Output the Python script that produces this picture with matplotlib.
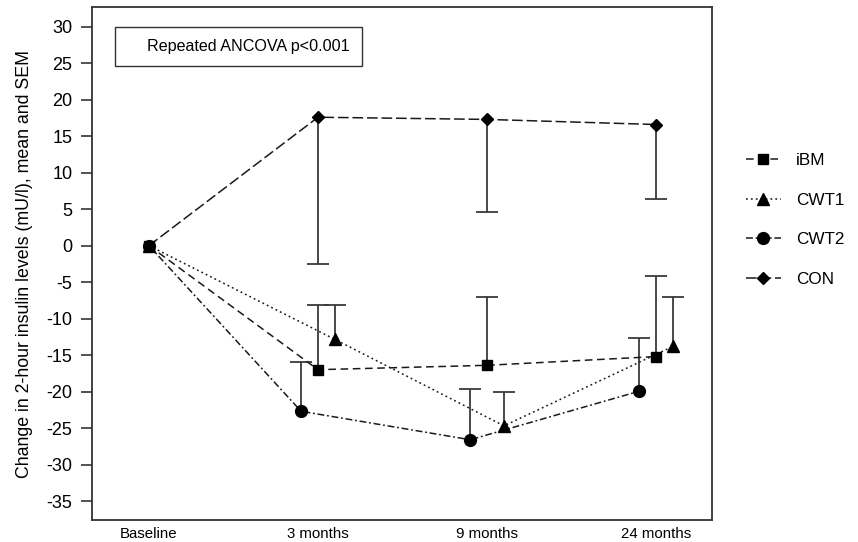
import matplotlib
matplotlib.use("Agg")
import matplotlib.pyplot as plt
from matplotlib.patches import Rectangle
from matplotlib.lines import Line2D
import numpy as np

plt.rcParams['font.family'] = ['Liberation Sans', 'DejaVu Sans']
plt.rcParams['axes.unicode_minus'] = False

timepoints = ["Baseline", "3 months", "9 months", "24 months"]
groups = ["iBM", "CWT1", "CWT2", "CON"]
ibm_mean = [0, -17.0, -16.4, -15.2]
ibm_sem = [0, 8.9, 9.4, 11.1]
cwt1_mean = [0, -12.85, -24.7, -13.8]
cwt1_sem = [0, 4.75, 4.6, 6.7]
cwt2_mean = [0, -22.7, -26.6, -19.95]
cwt2_sem = [0, 6.7, 6.9, 7.35]
con_mean = [0, 17.6, 17.3, 16.6]
con_sem = [0, 20.15, 12.7, 10.15]
annotation = "Repeated ANCOVA p<0.001"
ylabel = "Change in 2-hour insulin levels (mU/l), mean and SEM"

fig = plt.figure(figsize=(8.58, 5.42), dpi=100)
ax = fig.add_axes([0.1072, 0.0406, 0.8298 - 0.1072, 0.987 - 0.0406])

lc = '#1a1a1a'
ec = '#3a3a3a'
cap = 0.066
series = [
    (ibm_mean, ibm_sem, 0.0, 's', 7, (0, (5, 3)), 1),
    (cwt1_mean, cwt1_sem, 0.1, '^', 8.5, (0, (1.2, 2)), 1),
    (cwt2_mean, cwt2_sem, -0.1, 'o', 8.5, (0, (4.5, 1.8, 1.2, 1.8)), 1),
    (con_mean, con_sem, 0.0, 'D', 6, (0, (7, 2.5)), -1),
]

handles = []
x = np.arange(len(timepoints), dtype=float)
for (m, s, off, mk, ms, ls, d), name in zip(series, groups):
    xs = x.copy()
    xs[1:] += off
    m = np.array(m, dtype=float); s = np.array(s, dtype=float)
    ends = m[1:] + d * s[1:]
    ax.vlines(xs[1:], m[1:], ends, colors=ec, linewidth=1.3, zorder=2)
    ax.hlines(ends, xs[1:] - cap, xs[1:] + cap, colors=ec, linewidth=1.3,
              zorder=2)
    ax.plot(xs, m, linestyle=ls, color=lc, linewidth=1.1, zorder=3)
    ax.plot(xs, m, linestyle='none', marker=mk, markersize=ms,
            color='black', zorder=4)
    handles.append(Line2D([0], [0], linestyle=ls, color=lc, linewidth=1.1,
                          marker=mk, markersize=ms, markerfacecolor='black',
                          markeredgecolor='black'))

ax.set_xlim(-0.337, 3.33)
ax.set_ylim(-37.6, 32.7)
ax.set_yticks(np.arange(-35, 31, 5))
ax.set_xticks(x)
ax.set_xticklabels(timepoints, fontsize=10.8)
ax.tick_params(axis='x', length=0, pad=5)
ax.tick_params(axis='y', length=8, width=1.1, pad=6, labelsize=13,
               color='#222222')
for sp in ax.spines.values():
    sp.set_linewidth(1.3)
    sp.set_color('#333333')
ax.set_ylabel(ylabel, fontsize=12.8, labelpad=10)

ax.add_patch(Rectangle((-0.201, 24.65), 1.461, 5.35, fill=False,
                       edgecolor='#333333', linewidth=1.0, zorder=5))
ax.text(0.585, 27.35, annotation, ha='center', va='center', fontsize=11.6,
        zorder=6)

fig.legend(handles, groups, loc='center left',
           bbox_to_anchor=(731 / 858, 1 - 220 / 542), frameon=False,
           fontsize=12.3, handlelength=2.0, handletextpad=0.9,
           labelspacing=1.45)

fig.savefig("out.png", dpi=100)
